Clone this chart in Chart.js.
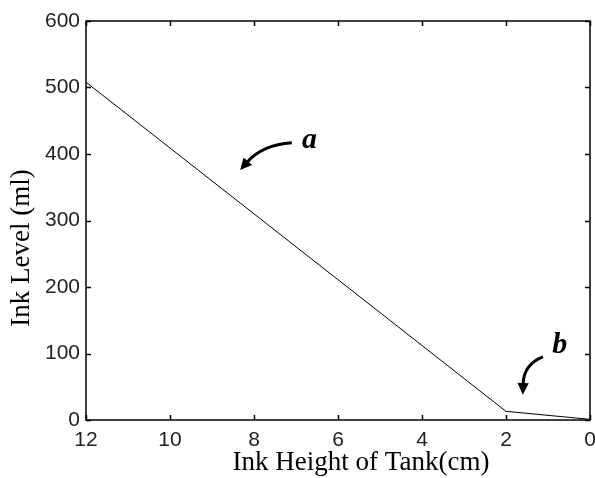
<!DOCTYPE html>
<html lang="en">
<head>
<meta charset="UTF-8">
<title>Ink Level vs Ink Height of Tank</title>
<style>
  html, body { margin: 0; padding: 0; background: #fff; }
  #wrap { width: 595px; height: 478px; }
</style>
<script src="https://cdn.jsdelivr.net/npm/chart.js"></script>
</head>
<body>
<div id="wrap"><canvas id="inkChart"></canvas></div>
<script>
// data
const heights = [12, 2, 0];
const levels = [508, 13, 1];
const xTickValues = [0, 2, 4, 6, 8, 10, 12];
const yTickValues = [0, 100, 200, 300, 400, 500, 600];
const xTitle = 'Ink Height of Tank(cm)';
const yTitle = 'Ink Level (ml)';
const noteLabels = ['a', 'b'];

// annotation placement, in data units (label spot, arrow start, bend, tip)
const notes = [
    { at: [6.86, 409], from: [7.1, 417], bend: [7.8, 414], to: [8.33, 376] },
    { at: [0.9, 101], from: [1.12, 95], bend: [1.58, 84], to: [1.6, 38] }
];

const frame = {
    id: 'frame',
    afterDraw(chart) {
        const { ctx, chartArea: a, scales: { x, y } } = chart;
        ctx.save();
        ctx.strokeStyle = '#000';
        ctx.lineWidth = 1.5;
        ctx.strokeRect(a.left, a.top, a.right - a.left, a.bottom - a.top);

        // inward tick marks on all four sides
        ctx.beginPath();
        x.ticks.forEach(t => {
            const px = Math.round(x.getPixelForValue(t.value)) + 0.5;
            ctx.moveTo(px, a.bottom); ctx.lineTo(px, a.bottom - 5);
            ctx.moveTo(px, a.top); ctx.lineTo(px, a.top + 5);
        });
        y.ticks.forEach(t => {
            const py = Math.round(y.getPixelForValue(t.value)) + 0.5;
            ctx.moveTo(a.left, py); ctx.lineTo(a.left + 5, py);
            ctx.moveTo(a.right, py); ctx.lineTo(a.right - 5, py);
        });
        ctx.stroke();

        // axis titles
        ctx.fillStyle = '#000';
        ctx.font = '27px "Liberation Serif", "Times New Roman", serif';
        ctx.textAlign = 'center';
        ctx.textBaseline = 'alphabetic';
        ctx.fillText(xTitle, 361, 470);
        ctx.save();
        ctx.translate(29, 248);
        ctx.rotate(-Math.PI / 2);
        ctx.fillText(yTitle, 0, 0);
        ctx.restore();

        // "a" / "b" notes with curved arrows
        notes.forEach((n, i) => {
            const sx = x.getPixelForValue(n.from[0]), sy = y.getPixelForValue(n.from[1]);
            const cx = x.getPixelForValue(n.bend[0]), cy = y.getPixelForValue(n.bend[1]);
            const ex = x.getPixelForValue(n.to[0]), ey = y.getPixelForValue(n.to[1]);
            const ang = Math.atan2(ey - cy, ex - cx);
            const headLen = 13;
            const bx = ex - headLen * 0.8 * Math.cos(ang), by = ey - headLen * 0.8 * Math.sin(ang);
            ctx.lineWidth = 3;
            ctx.beginPath();
            ctx.moveTo(sx, sy);
            ctx.quadraticCurveTo(cx, cy, bx, by);
            ctx.stroke();
            ctx.beginPath();
            ctx.moveTo(ex, ey);
            ctx.lineTo(ex - headLen * Math.cos(ang - 0.45), ey - headLen * Math.sin(ang - 0.45));
            ctx.lineTo(ex - headLen * Math.cos(ang + 0.45), ey - headLen * Math.sin(ang + 0.45));
            ctx.closePath();
            ctx.fill();

            ctx.font = 'italic bold 30px "Liberation Serif", "Times New Roman", serif';
            ctx.textAlign = 'left';
            ctx.fillText(noteLabels[i], x.getPixelForValue(n.at[0]), y.getPixelForValue(n.at[1]));
        });
        ctx.restore();
    }
};

const tickFont = { family: '"Liberation Sans", Arial, sans-serif', size: 21 };

new Chart(document.getElementById('inkChart'), {
    type: 'line',
    data: {
        datasets: [{
            data: heights.map((h, i) => ({ x: h, y: levels[i] })),
            borderColor: '#000',
            borderWidth: 1,
            pointRadius: 0,
            tension: 0,
            fill: false
        }]
    },
    options: {
        responsive: true,
        maintainAspectRatio: false,
        animation: false,
        layout: { padding: { top: 21, right: 5, left: 0, bottom: 0 } },
        plugins: { legend: { display: false }, tooltip: { enabled: false } },
        scales: {
            x: {
                type: 'linear',
                reverse: true,
                min: 0,
                max: 12,
                afterBuildTicks: s => { s.ticks = xTickValues.map(v => ({ value: v })); },
                afterFit: s => { s.height = 58; },
                grid: { drawOnChartArea: false, drawTicks: false },
                border: { display: false },
                ticks: { color: '#222', font: tickFont, padding: 8, maxRotation: 0 }
            },
            y: {
                min: 0,
                max: 600,
                afterBuildTicks: s => { s.ticks = yTickValues.map(v => ({ value: v })); },
                afterFit: s => { s.width = 86; },
                grid: { drawOnChartArea: false, drawTicks: false },
                border: { display: false },
                ticks: { color: '#222', font: tickFont, padding: 6 }
            }
        }
    },
    plugins: [frame]
});
</script>
</body>
</html>
